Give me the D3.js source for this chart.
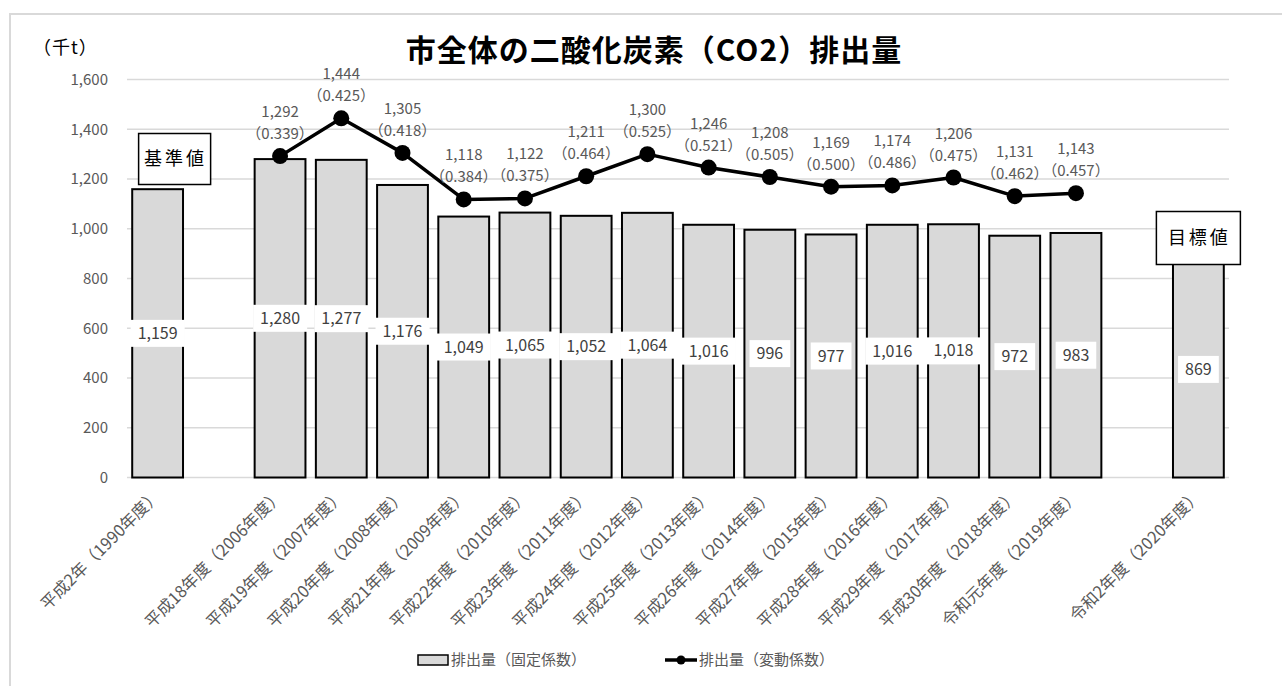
<!DOCTYPE html>
<html><head><meta charset="utf-8">
<script src="https://cdn.jsdelivr.net/npm/d3@7"></script>
<style>
html,body{margin:0;padding:0;background:#fff;}
svg{display:block;font-family:"Noto Sans CJK JP","Noto Sans",sans-serif;}
</style></head>
<body><svg id="c" width="1282" height="686"></svg>
<script>
const categories = ["平成2年（1990年度）", "", "平成18年度（2006年度）", "平成19年度（2007年度）", "平成20年度（2008年度）", "平成21年度（2009年度）", "平成22年度（2010年度）", "平成23年度（2011年度）", "平成24年度（2012年度）", "平成25年度（2013年度）", "平成26年度（2014年度）", "平成27年度（2015年度）", "平成28年度（2016年度）", "平成29年度（2017年度）", "平成30年度（2018年度）", "令和元年度（2019年度）", "", "令和2年度（2020年度）"];
const fixedValues = [1159, null, 1280, 1277, 1176, 1049, 1065, 1052, 1064, 1016, 996, 977, 1016, 1018, 972, 983, null, 869];
const variableValues = [null, null, 1292, 1444, 1305, 1118, 1122, 1211, 1300, 1246, 1208, 1169, 1174, 1206, 1131, 1143, null, null];
const coefficients = [null, null, "0.339", "0.425", "0.418", "0.384", "0.375", "0.464", "0.525", "0.521", "0.505", "0.500", "0.486", "0.475", "0.462", "0.457", null, null];
const yTicks = [0, 200, 400, 600, 800, 1000, 1200, 1400, 1600];
const title = "市全体の二酸化炭素（CO2）排出量";
const unitLabel = "（千t）";
const legendLabels = ["排出量（固定係数）", "排出量（変動係数）"];
const baseLabel = "基準値", targetLabel = "目標値";

const svg = d3.select("#c");
const L = 127, R = 1229, T = 79.5, B = 477.5;
const idx = categories.map((d, i) => i);
const x = d3.scaleBand().domain(idx).range([L, R]).paddingInner(0.17).paddingOuter(0.085);
const y = d3.scaleLinear().domain([0, 1600]).range([B, T]);
const fmt = d3.format(",");
const gray = "#595959";

// outer border
svg.append("rect").attr("x", 10).attr("y", 14).attr("width", 1290).attr("height", 700)
  .attr("fill", "none").attr("stroke", "#d9d9d9").attr("stroke-width", 2);

// gridlines
svg.append("g").selectAll("line").data(yTicks).join("line")
  .attr("x1", L).attr("x2", R).attr("y1", d => y(d)).attr("y2", d => y(d))
  .attr("stroke", "#d9d9d9").attr("stroke-width", 1.5);

// y labels
svg.append("g").selectAll("text").data(yTicks).join("text")
  .attr("x", 108).attr("y", d => y(d)).attr("dy", "0.35em").attr("text-anchor", "end")
  .attr("font-size", 15).attr("fill", gray).text(d => fmt(d));

// title & unit
svg.append("text").attr("x", 654).attr("y", 61).attr("text-anchor", "middle")
  .attr("font-size", 30).attr("font-weight", "bold").attr("letter-spacing", 1).attr("fill", "#000").text(title);
svg.append("text").attr("x", 33).attr("y", 54).attr("font-size", 18).attr("letter-spacing", 1).attr("fill", "#000").text(unitLabel);

// bars
const barData = idx.filter(i => fixedValues[i] != null);
svg.append("g").selectAll("rect").data(barData).join("rect")
  .attr("x", i => x(i)).attr("width", x.bandwidth())
  .attr("y", i => y(fixedValues[i])).attr("height", i => y(0) - y(fixedValues[i]))
  .attr("fill", "#d9d9d9").attr("stroke", "#000").attr("stroke-width", 2);

// bar labels
const bl = svg.append("g").selectAll("g").data(barData).join("g")
  .attr("transform", i => `translate(${x(i) + x.bandwidth() / 2},${(y(fixedValues[i]) + y(0)) / 2})`);
bl.append("text").attr("text-anchor", "middle").attr("dy", "0.35em").attr("font-size", 16)
  .attr("fill", "#404040").text(i => fmt(fixedValues[i]));
bl.each(function () {
  const g = d3.select(this), bb = g.select("text").node().getBBox();
  g.insert("rect", "text").attr("x", bb.x - 7).attr("y", -13.5).attr("width", bb.width + 14).attr("height", 27).attr("fill", "#fff");
});

// line
const lineData = idx.filter(i => variableValues[i] != null);
const line = d3.line().x(i => x(i) + x.bandwidth() / 2).y(i => y(variableValues[i]));
svg.append("path").datum(lineData).attr("d", line).attr("fill", "none")
  .attr("stroke", "#000").attr("stroke-width", 3.5).attr("stroke-linejoin", "round");
svg.append("g").selectAll("circle").data(lineData).join("circle")
  .attr("cx", i => x(i) + x.bandwidth() / 2).attr("cy", i => y(variableValues[i])).attr("r", 8).attr("fill", "#000");
const lt = svg.append("g").selectAll("text").data(lineData).join("text")
  .attr("text-anchor", "middle").attr("font-size", 15).attr("fill", gray)
  .attr("transform", i => `translate(${x(i) + x.bandwidth() / 2},${y(variableValues[i])})`);
lt.append("tspan").attr("x", 0).attr("y", -39).text(i => fmt(variableValues[i]));
lt.append("tspan").attr("x", 0).attr("y", -17).text(i => "（" + coefficients[i] + "）");

// x labels
svg.append("g").selectAll("text").data(idx.filter(i => categories[i] !== "")).join("text")
  .attr("transform", i => `translate(${x(i) + x.bandwidth() / 2},${B + 15}) rotate(-45)`)
  .attr("text-anchor", "end").attr("dy", "0.35em").attr("font-size", 16.5).attr("fill", gray)
  .text(i => categories[i]);

// annotation boxes
function box(cx, cy, w, h, label) {
  svg.append("rect").attr("x", cx - w / 2).attr("y", cy - h / 2).attr("width", w).attr("height", h)
    .attr("fill", "#fff").attr("stroke", "#000").attr("stroke-width", 1.5);
  svg.append("text").attr("x", cx + 1).attr("y", cy).attr("dy", "0.35em").attr("text-anchor", "middle")
    .attr("font-size", 18).attr("letter-spacing", 3).attr("fill", "#000").text(label);
}
box(x(0) + x.bandwidth() / 2 + 17, 159, 72, 51, baseLabel);
box(x(17) + x.bandwidth() / 2, 238, 84, 53, targetLabel);

// legend
const lg = svg.append("g");
lg.append("rect").attr("x", 418).attr("y", 655).attr("width", 30).attr("height", 10)
  .attr("fill", "#d9d9d9").attr("stroke", "#000").attr("stroke-width", 1.5);
lg.append("text").attr("x", 451).attr("y", 660).attr("dy", "0.35em").attr("font-size", 15).attr("fill", gray).text(legendLabels[0]);
lg.append("line").attr("x1", 665).attr("x2", 697).attr("y1", 660).attr("y2", 660).attr("stroke", "#000").attr("stroke-width", 3.5);
lg.append("circle").attr("cx", 681).attr("cy", 660).attr("r", 4.5).attr("fill", "#000");
lg.append("text").attr("x", 699).attr("y", 660).attr("dy", "0.35em").attr("font-size", 15).attr("fill", gray).text(legendLabels[1]);
</script></body></html>
